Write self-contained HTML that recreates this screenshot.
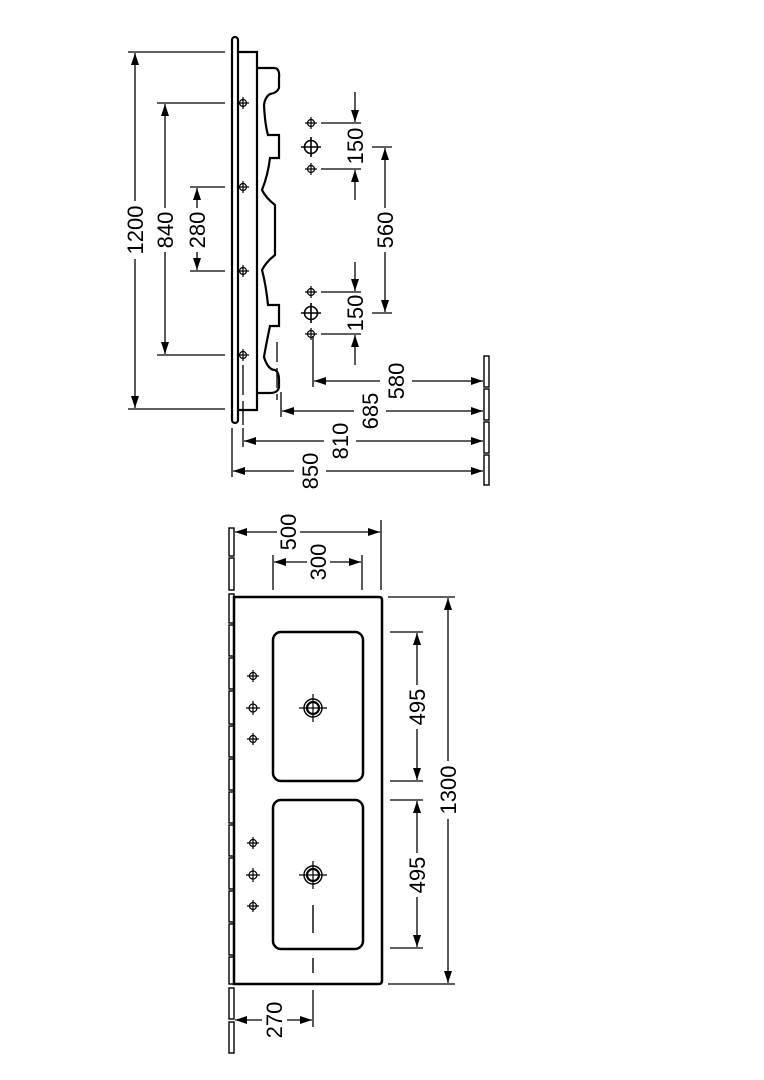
<!DOCTYPE html>
<html><head><meta charset="utf-8"><style>
html,body{margin:0;padding:0;background:#fff}
svg{display:block}
text{font-family:"Liberation Sans",Arial,sans-serif;font-size:22px;fill:#000}
</style></head><body>
<svg width="764" height="1080" viewBox="0 0 764 1080" xmlns="http://www.w3.org/2000/svg">
<defs>
<marker id="a" viewBox="0 0 12 8" refX="12" refY="4" markerWidth="12" markerHeight="8" markerUnits="userSpaceOnUse" orient="auto"><path d="M0,0 L12,4 L0,8 z" fill="#000"/></marker>
<g id="fh" stroke="#000" stroke-width="1.2" fill="none"><circle r="3.5"/><path d="M-6,0H6M0,-6V6"/></g>
<g id="fb" stroke="#000" stroke-width="1.6" fill="none"><circle r="6.5"/><path d="M-10,0H10M0,-10V10"/></g>
<g id="fc" stroke="#000" stroke-width="1.2" fill="none"><circle r="4"/><path d="M-7,0H7M0,-7V7"/></g>
<g id="dr" stroke="#000" fill="none"><circle r="9" stroke-width="1.4"/><circle r="6" stroke-width="2.2"/><path d="M-14,0H14M0,-14V14" stroke-width="1.2"/></g>
</defs>
<g stroke="#000" fill="none" stroke-width="1.3">

<!-- SIDE VIEW -->
<rect x="232" y="37" width="6" height="386" rx="3" stroke-width="2.2"/>
<path d="M238,52 H257 V410 H238" stroke-width="2.2"/>
<path d="M258,68 H274 Q280,68 279,78 L279,88 Q277,93 270,94 Q265,97 264,105 Q265,125 268,135 H279 V158 H270 Q268,175 262,190 Q266,198 275,205 V255 Q266,262 262,270 Q266,285 268,305 H279 V326 H270 Q266,345 264,357 Q268,370 275,370 Q279,372 279,380 V387 Q278,393 270,393 H258" stroke-width="2.2"/>
<path d="M277,342 V400" stroke-dasharray="20,6"/>
<path d="M243,365 V425" stroke-dasharray="30,6"/>
<use href="#fh" x="243" y="103"/><use href="#fh" x="243" y="187"/><use href="#fh" x="243" y="271"/><use href="#fh" x="243" y="355"/>
<!-- left dims -->
<path d="M128,52 H225 M128,409 H225 M157,103 H225 M157,355 H225 M190,187 H225 M190,271 H225"/>
<path d="M135,201 V53" marker-end="url(#a)"/><path d="M135,259 V408" marker-end="url(#a)"/>
<path d="M165,208 V104" marker-end="url(#a)"/><path d="M165,252 V354" marker-end="url(#a)"/>
<path d="M197,208 V188" marker-end="url(#a)"/><path d="M197,252 V270" marker-end="url(#a)"/>
<!-- faucets -->
<use href="#fh" x="311" y="123"/><use href="#fb" x="311" y="147"/><use href="#fh" x="311" y="169"/>
<use href="#fh" x="311" y="292"/><use href="#fb" x="311" y="313"/><use href="#fh" x="311" y="334"/>
<path d="M321,123 H361 M321,169 H361 M321,292 H361 M321,334 H361"/>
<path d="M355,92 V122" marker-end="url(#a)"/><path d="M355,200 V170" marker-end="url(#a)"/>
<path d="M355,262 V291" marker-end="url(#a)"/><path d="M355,365 V335" marker-end="url(#a)"/>
<path d="M372,147 H392 M372,313 H392"/>
<path d="M385,208 V148" marker-end="url(#a)"/><path d="M385,252 V312" marker-end="url(#a)"/>
<!-- bottom dims -->
<path d="M313,336 V387 M281,392 V417 M243,428 V447 M232,428 V477"/>
<path d="M380,381 H314" marker-end="url(#a)"/><path d="M412,381 H483" marker-end="url(#a)"/>
<path d="M354,411 H282" marker-end="url(#a)"/><path d="M386,411 H483" marker-end="url(#a)"/>
<path d="M324,441 H244" marker-end="url(#a)"/><path d="M356,441 H483" marker-end="url(#a)"/>
<path d="M294,471 H233" marker-end="url(#a)"/><path d="M326,471 H483" marker-end="url(#a)"/>
<g stroke-width="1.4"><rect x="484" y="356" width="5" height="31"/><rect x="484" y="389" width="5" height="31"/><rect x="484" y="422" width="5" height="31"/><rect x="484" y="455" width="5" height="30"/></g>

<!-- TOP VIEW -->
<g stroke-width="1.4">
<rect x="229" y="528" width="5" height="28"/><rect x="229" y="558" width="5" height="32"/>
<rect x="229" y="594" width="5" height="29"/><rect x="229" y="625" width="5" height="31"/><rect x="229" y="658" width="5" height="31"/><rect x="229" y="691" width="5" height="33"/><rect x="229" y="726" width="5" height="31"/><rect x="229" y="759" width="5" height="31"/><rect x="229" y="792" width="5" height="31"/><rect x="229" y="825" width="5" height="31"/><rect x="229" y="858" width="5" height="31"/><rect x="229" y="891" width="5" height="31"/><rect x="229" y="924" width="5" height="31"/><rect x="229" y="957" width="5" height="27"/>
<rect x="229" y="988" width="5" height="31"/><rect x="229" y="1022" width="5" height="31"/>
</g>
<path d="M234,597 H379 Q382,597 382,600 V980 Q382,984 379,984 H234 Z" stroke-width="2.5"/>
<rect x="273" y="632" width="90" height="149" rx="8" stroke-width="2.5"/>
<rect x="273" y="800" width="90" height="149" rx="8" stroke-width="2.5"/>
<use href="#dr" x="313" y="708"/><use href="#dr" x="313" y="875"/>
<use href="#fh" x="253" y="676"/><use href="#fc" x="253" y="708"/><use href="#fh" x="253" y="739"/>
<use href="#fh" x="253" y="843"/><use href="#fc" x="253" y="875"/><use href="#fh" x="253" y="906"/>
<path d="M313,905 V933 M313,958 V973" stroke-width="1.4"/>
<!-- top dims -->
<path d="M381,520 V590 M273,555 V590 M362,555 V590"/>
<path d="M277,532 H235" marker-end="url(#a)"/><path d="M300,532 H380" marker-end="url(#a)"/>
<path d="M307,562 H274" marker-end="url(#a)"/><path d="M330,562 H361" marker-end="url(#a)"/>
<!-- right dims -->
<path d="M388,597 H455 M388,984 H455 M390,632 H423 M390,781 H423 M390,800 H423 M390,948 H423"/>
<path d="M448,761 V598" marker-end="url(#a)"/><path d="M448,819 V983" marker-end="url(#a)"/>
<path d="M417,685 V633" marker-end="url(#a)"/><path d="M417,729 V780" marker-end="url(#a)"/>
<path d="M417,853 V801" marker-end="url(#a)"/><path d="M417,897 V947" marker-end="url(#a)"/>
<!-- 270 -->
<path d="M313,990 V1027"/>
<path d="M262,1020 H235" marker-end="url(#a)"/><path d="M287,1020 H312" marker-end="url(#a)"/>
</g>

<g text-anchor="middle">
<text transform="translate(143,230) rotate(-90)">1200</text>
<text transform="translate(173,230) rotate(-90)">840</text>
<text transform="translate(205,230) rotate(-90)">280</text>
<text transform="translate(363,146) rotate(-90)">150</text>
<text transform="translate(363,313) rotate(-90)">150</text>
<text transform="translate(393,230) rotate(-90)">560</text>
<text transform="translate(404,381) rotate(-90)">580</text>
<text transform="translate(378,411) rotate(-90)">685</text>
<text transform="translate(348,441) rotate(-90)">810</text>
<text transform="translate(318,471) rotate(-90)">850</text>
<text transform="translate(296,532) rotate(-90)">500</text>
<text transform="translate(326,562) rotate(-90)">300</text>
<text transform="translate(456,790) rotate(-90)">1300</text>
<text transform="translate(425,707) rotate(-90)">495</text>
<text transform="translate(425,875) rotate(-90)">495</text>
<text transform="translate(282,1020) rotate(-90)">270</text>
</g>
</svg>
</body></html>
